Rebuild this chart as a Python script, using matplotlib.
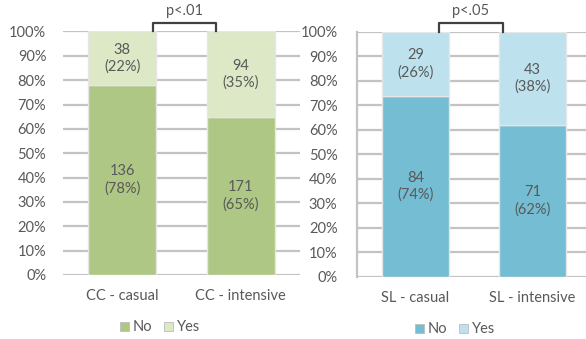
import numpy as np
import matplotlib.pyplot as plt
from matplotlib.patches import Patch

plt.rcParams['font.family'] = ['Lato', 'DejaVu Sans']

# counts and shares per group
cc_groups = ["CC - casual", "CC - intensive"]
cc_no = [136, 171]
cc_yes = [38, 94]
cc_no_pct = [78, 65]
cc_yes_pct = [22, 35]

sl_groups = ["SL - casual", "SL - intensive"]
sl_no = [84, 71]
sl_yes = [29, 43]
sl_no_pct = [74, 62]
sl_yes_pct = [26, 38]

TXT = "#595959"
GRID = "#c3c3c3"
FS = 10.5

fig = plt.figure(figsize=(5.86, 3.39), dpi=100)
ax1 = fig.add_axes([0.1075, 0.1888, 0.4044, 0.7183])
ax2 = fig.add_axes([0.6092, 0.1838, 0.3993, 0.7220])


def panel(ax, groups, no, yes, no_pct, yes_pct, c_no, c_yes, ptext, bx, spine, leg_x):
    x = np.arange(len(groups))
    w = 0.575
    ax.bar(x, no_pct, w, color=c_no, edgecolor="#e6e6e6", linewidth=1.0, zorder=3, label="No")
    ax.bar(x, yes_pct, w, bottom=no_pct, color=c_yes, edgecolor="#e6e6e6", linewidth=1.0,
           zorder=3, label="Yes")
    for i in x:
        ax.text(i, no_pct[i] / 2, f"{no[i]}\n({no_pct[i]}%)", ha="center", va="center",
                color=TXT, fontsize=FS, linespacing=1.25, zorder=4)
        ax.text(i, no_pct[i] + yes_pct[i] / 2, f"{yes[i]}\n({yes_pct[i]}%)", ha="center",
                va="center", color=TXT, fontsize=FS, linespacing=1.25, zorder=4)
    ax.set_xlim(-0.5, 1.5)
    ax.set_ylim(0, 100)
    ax.set_yticks(np.arange(0, 101, 10))
    ax.set_yticklabels([f"{v}%" for v in range(0, 101, 10)])
    ax.set_xticks(x)
    ax.set_xticklabels(groups)
    ax.yaxis.grid(True, color=GRID, linewidth=1.6, zorder=0)
    ax.set_axisbelow(True)
    for s in ax.spines.values():
        s.set_visible(False)
    if spine:
        ax.spines["left"].set_visible(True)
        ax.spines["left"].set_color(GRID)
        ax.spines["left"].set_linewidth(1.6)
    ax.tick_params(axis="y", length=0, pad=12 if not spine else 14, labelsize=FS, labelcolor=TXT)
    ax.tick_params(axis="x", length=0, pad=10, labelsize=FS, labelcolor=TXT)

    # significance bracket over the pair
    ax.plot([bx[0], bx[0], bx[1], bx[1]], [100, 103.6, 103.6, 100], color="#404040",
            linewidth=1.6, clip_on=False, zorder=5)
    ax.text((bx[0] + bx[1]) / 2, 105.5, ptext, ha="center", va="bottom", color=TXT,
            fontsize=FS, clip_on=False)

    handles = [Patch(facecolor=c_no, edgecolor="#bdbdbd", linewidth=0.6, label="No"),
               Patch(facecolor=c_yes, edgecolor="#bdbdbd", linewidth=0.6, label="Yes")]
    ax.legend(handles=handles, loc="center", bbox_to_anchor=(leg_x, -0.215), ncol=2,
              frameon=False, fontsize=FS, labelcolor=TXT, handlelength=0.6,
              handleheight=0.6, handletextpad=0.3, columnspacing=0.8)


panel(ax1, cc_groups, cc_no, cc_yes, cc_no_pct, cc_yes_pct, "#afc784", "#dce8c6",
      "p<.01", (0.257, 0.791), False, 0.41)
panel(ax2, sl_groups, sl_no, sl_yes, sl_no_pct, sl_yes_pct, "#74bdd3", "#bde2ee",
      "p<.05", (0.20, 0.745), True, 0.42)

fig.savefig("out.png", dpi=100)
